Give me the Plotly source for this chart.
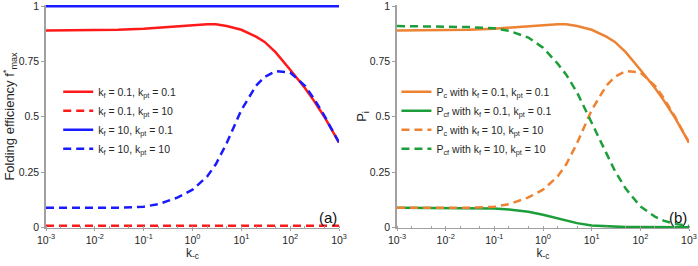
import plotly.graph_objects as go

# ---- data ----
k_c = [1e-3, 3e-3, 1e-2, 3e-2, 0.1, 0.2, 0.5, 1, 2, 3, 5, 10, 20, 30, 50, 100, 200, 300, 500, 1000]

# kf=0.1, kpt=0.1 : folding efficiency (= Pc)
eff_f01_pt01 = [0.890, 0.890, 0.891, 0.893, 0.898, 0.903, 0.910, 0.915, 0.918, 0.918, 0.910, 0.893, 0.862, 0.838, 0.792, 0.712, 0.630, 0.575, 0.500, 0.383]
# kf=0.1, kpt=10
eff_f01_pt10 = [0.007] * 20
# kf=10, kpt=0.1
eff_f10_pt01 = [0.999] * 20
# kf=10, kpt=10 (= Pc dashed)
eff_f10_pt10 = [0.088, 0.088, 0.088, 0.089, 0.093, 0.105, 0.135, 0.170, 0.230, 0.285, 0.380, 0.530, 0.640, 0.680, 0.706, 0.700, 0.640, 0.585, 0.505, 0.383]

# Pcf
pcf_f01_pt01 = [0.088, 0.088, 0.088, 0.087, 0.085, 0.081, 0.070, 0.057, 0.040, 0.030, 0.019, 0.008, 0.004, 0.002, 0.001, 0.001, 0.0, 0.0, 0.0, 0.0]
pcf_f10_pt10 = [0.910, 0.909, 0.907, 0.905, 0.900, 0.888, 0.858, 0.812, 0.740, 0.690, 0.610, 0.470, 0.330, 0.255, 0.175, 0.095, 0.048, 0.030, 0.016, 0.006]

xtick_vals = [1e-3, 1e-2, 1e-1, 1, 10, 100, 1000]
xtick_text = ["10<sup>-3</sup>", "10<sup>-2</sup>", "10<sup>-1</sup>", "10<sup>0</sup>",
              "10<sup>1</sup>", "10<sup>2</sup>", "10<sup>3</sup>"]
ytick_vals = [0, 0.25, 0.5, 0.75, 1]
ytick_text = ["0", "0.25", "0.5", "0.75", "1"]

RED = "#ff1a1a"
BLUE = "#1a1aff"
ORANGE = "#ee8233"
GREEN = "#1c9e3a"
DASH = "8px,5px"
LW = 2.5

fig = go.Figure()

def add(x, y, color, dash, name, xa, ya, legend):
    fig.add_trace(go.Scatter(
        x=x, y=y, mode="lines", name=name, xaxis=xa, yaxis=ya, legend=legend,
        line=dict(color=color, width=LW, dash=dash)))

# panel (a)
add(k_c, eff_f01_pt01, RED, "solid", "k<sub>f</sub> = 0.1, k<sub>pt</sub> = 0.1", "x", "y", "legend")
add(k_c, eff_f01_pt10, RED, DASH, "k<sub>f</sub> = 0.1, k<sub>pt</sub> = 10", "x", "y", "legend")
add(k_c, eff_f10_pt01, BLUE, "solid", "k<sub>f</sub> = 10, k<sub>pt</sub> = 0.1", "x", "y", "legend")
add(k_c, eff_f10_pt10, BLUE, DASH, "k<sub>f</sub> = 10, k<sub>pt</sub> = 10", "x", "y", "legend")

# panel (b)
add(k_c, eff_f01_pt01, ORANGE, "solid", "P<sub>c</sub> with k<sub>f</sub> = 0.1, k<sub>pt</sub> = 0.1", "x2", "y2", "legend2")
add(k_c, pcf_f01_pt01, GREEN, "solid", "P<sub>cf</sub> with k<sub>f</sub> = 0.1, k<sub>pt</sub> = 0.1", "x2", "y2", "legend2")
add(k_c, eff_f10_pt10, ORANGE, DASH, "P<sub>c</sub> with k<sub>f</sub> = 10, k<sub>pt</sub> = 10", "x2", "y2", "legend2")
add(k_c, pcf_f10_pt10, GREEN, DASH, "P<sub>cf</sub> with k<sub>f</sub> = 10, k<sub>pt</sub> = 10", "x2", "y2", "legend2")

FONT = "Liberation Sans, Arial, sans-serif"
TICKC = "#262626"
AXC = "#a0a0a0"

xaxis_common = dict(
    type="log", range=[-3, 3], tickvals=xtick_vals, ticktext=xtick_text,
    ticks="outside", ticklen=2, tickcolor=AXC, showline=True, linecolor=AXC, linewidth=1,
    showgrid=False, zeroline=False, tickfont=dict(size=10.5, color=TICKC),
    minor=dict(ticks="inside", ticklen=2, tickcolor=AXC, showgrid=False),
    title=dict(text="k<sub>-c</sub>", font=dict(size=12, color=TICKC), standoff=0),
    automargin=False, ticklabeloverflow="allow",
)
yaxis_common = dict(
    range=[-0.003, 1.005], tickvals=ytick_vals, ticktext=ytick_text,
    ticks="outside", ticklen=3, tickcolor=AXC, showline=True, linecolor=AXC, linewidth=1.5,
    showgrid=False, zeroline=False, tickfont=dict(size=10.5, color=TICKC),
    automargin=False, ticklabeloverflow="allow",
)

fig.update_layout(
    width=698, height=266,
    margin=dict(l=46, r=9, t=5, b=38),
    paper_bgcolor="white", plot_bgcolor="white",
    font=dict(family=FONT, color=TICKC),
    xaxis=dict(domain=[0, 0.4557], anchor="y", **xaxis_common),
    xaxis2=dict(domain=[0.5459, 1], anchor="y2", **xaxis_common),
    yaxis=dict(domain=[0, 1], anchor="x",
               title=dict(text="Folding efficiency f<sup>*</sup><sub>max</sub>", font=dict(size=13, color=TICKC), standoff=0),
               **yaxis_common),
    yaxis2=dict(domain=[0, 1], anchor="x2",
                title=dict(text="P<sub>i</sub>", font=dict(size=13, color=TICKC), standoff=0),
                **yaxis_common),
    legend=dict(x=0.019, y=0.676, xanchor="left", yanchor="top", bgcolor="rgba(0,0,0,0)",
                font=dict(size=10.5, color=TICKC), tracegroupgap=0, itemwidth=30),
    legend2=dict(x=0.545, y=0.676, xanchor="left", yanchor="top", bgcolor="rgba(0,0,0,0)",
                 font=dict(size=10.5, color=TICKC), tracegroupgap=0, itemwidth=30),
    annotations=[
        dict(text="(a)", xref="x domain", yref="y domain", x=1.0, y=0.0, xanchor="right", yanchor="bottom",
             showarrow=False, font=dict(size=15, color="#111")),
        dict(text="(b)", xref="x2 domain", yref="y2 domain", x=1.0, y=0.0, xanchor="right", yanchor="bottom",
             showarrow=False, font=dict(size=15, color="#111")),
    ],
)

fig.write_html("out.html", config={"displayModeBar": False})

# remove the default page margin so the figure sits at the window's corner
with open("out.html", "r", encoding="utf-8") as f:
    html = f.read()
html = html.replace("<head>", "<head><style>html,body{margin:0;padding:0;overflow:hidden;}</style>", 1)
with open("out.html", "w", encoding="utf-8") as f:
    f.write(html)
